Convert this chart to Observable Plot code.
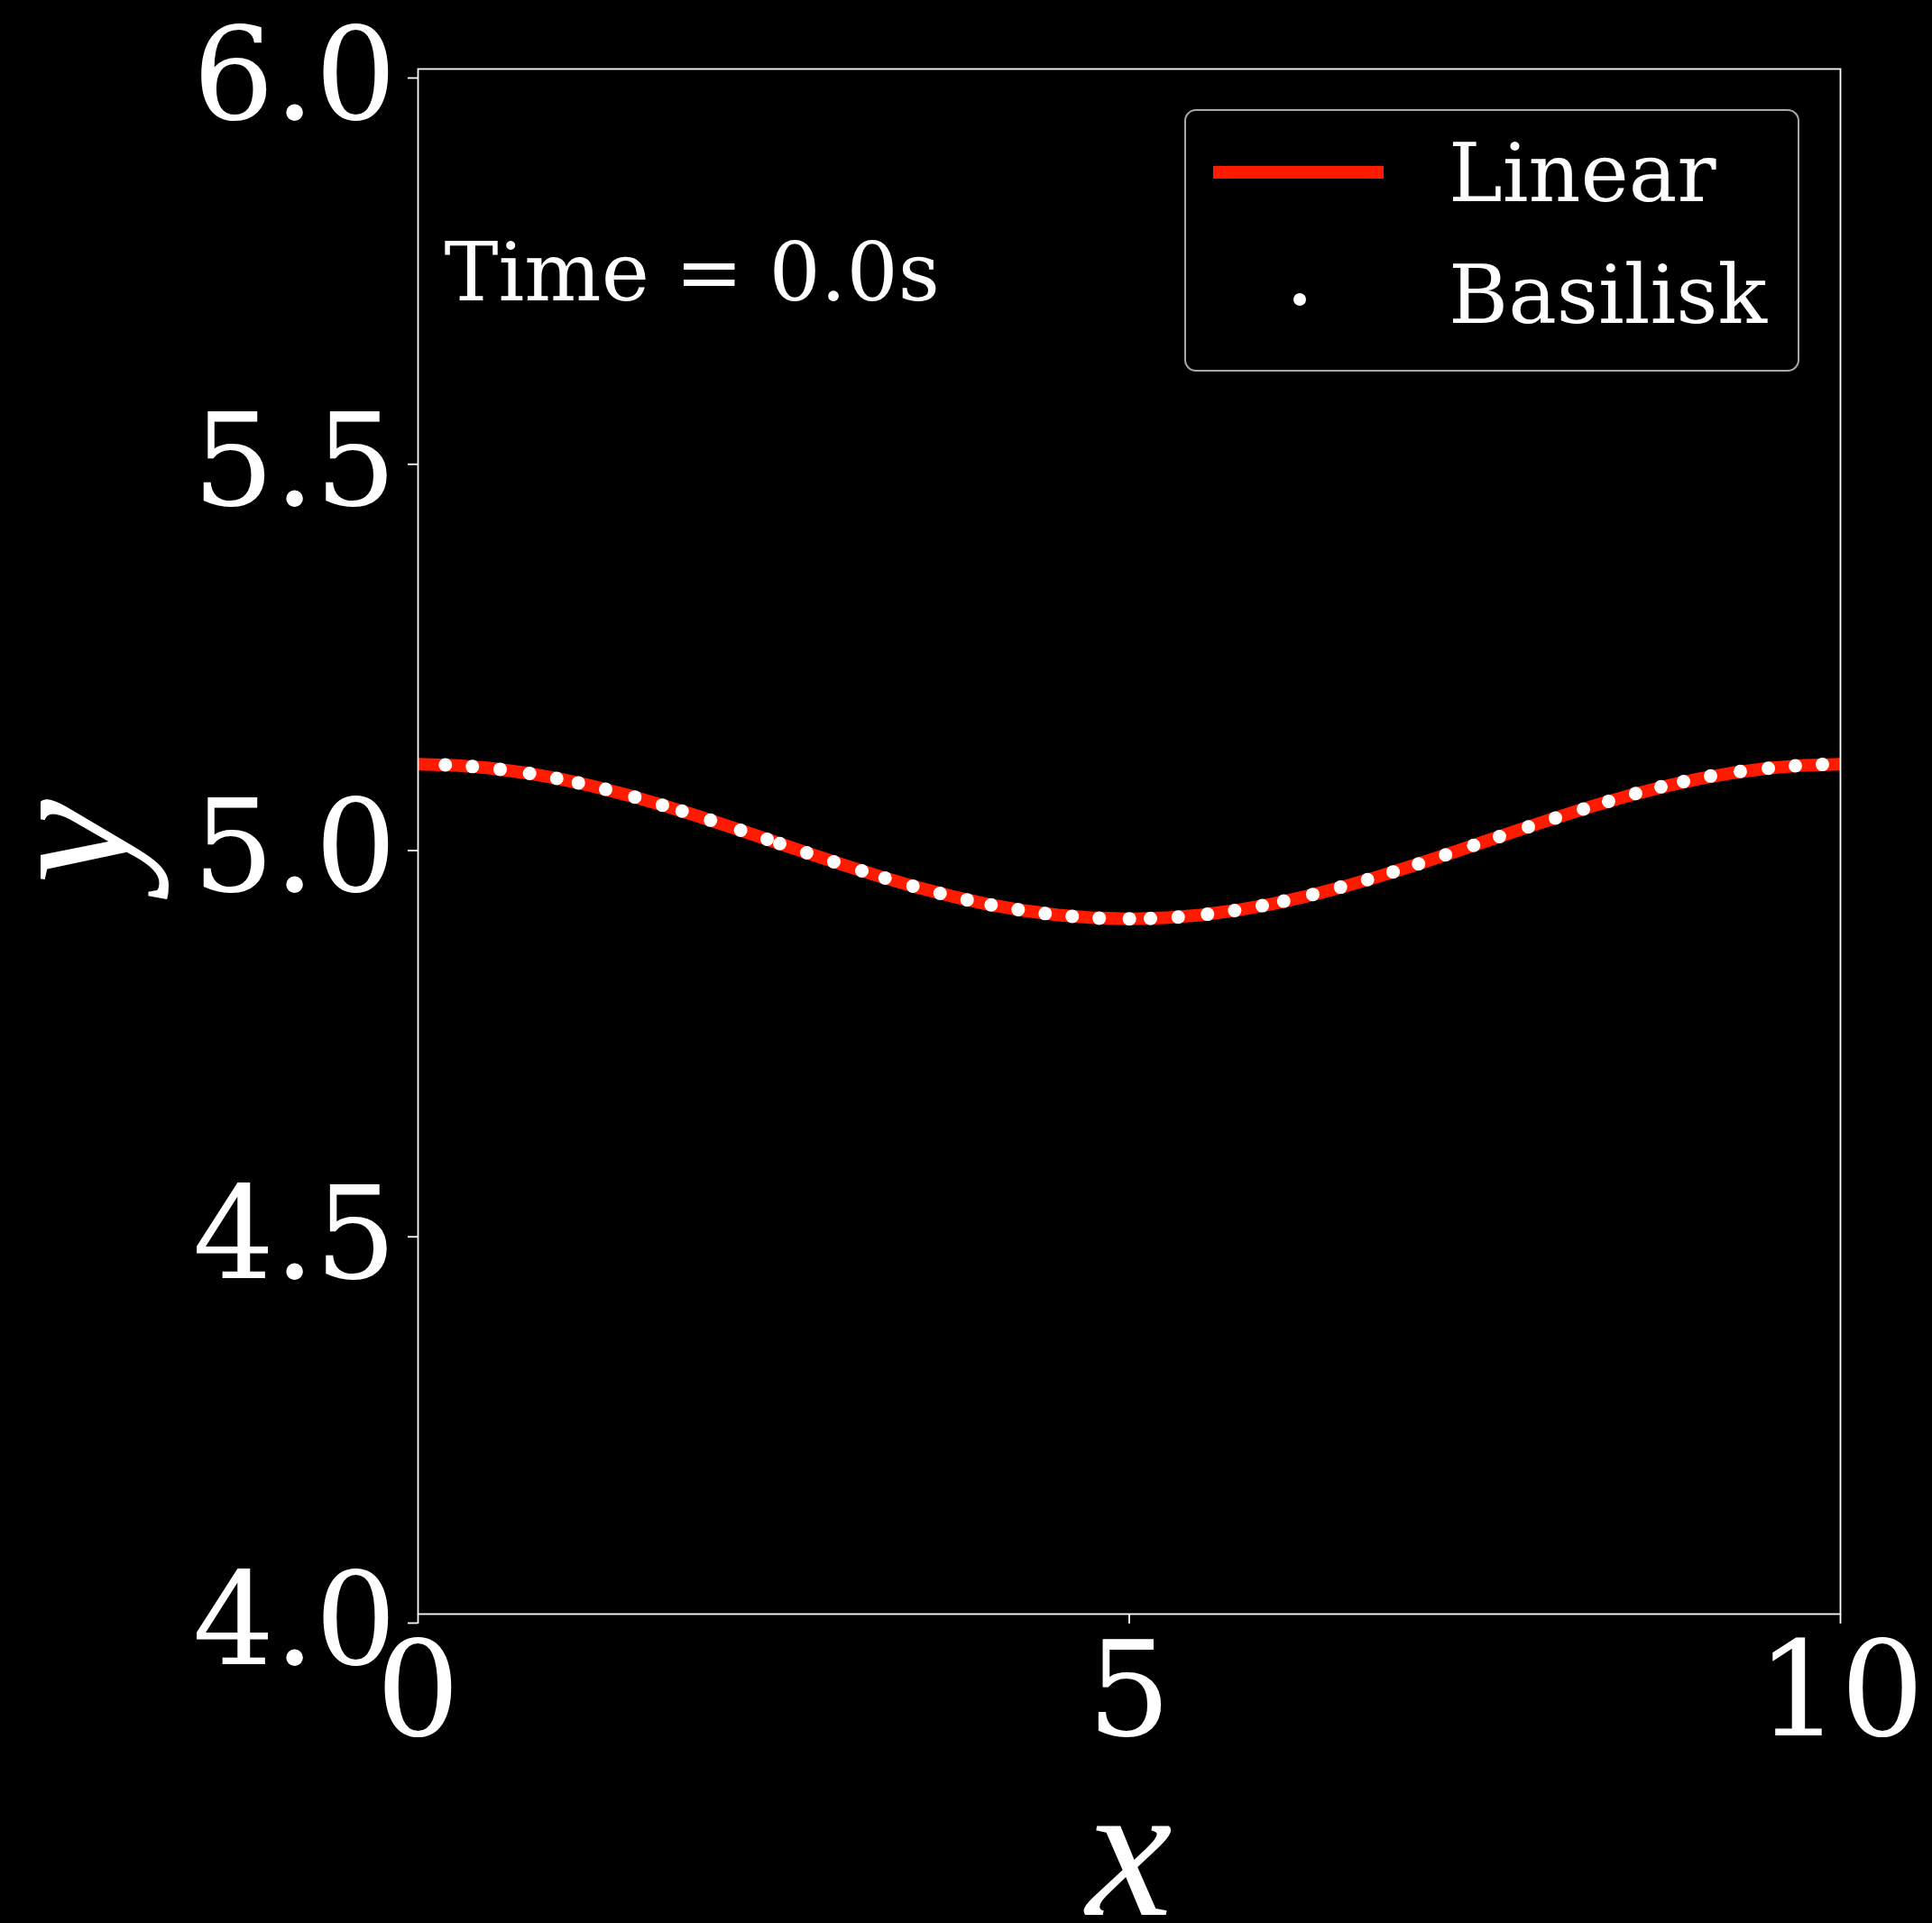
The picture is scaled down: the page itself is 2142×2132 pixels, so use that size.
<!DOCTYPE html>
<html>
<head>
<meta charset="utf-8">
<script src="https://cdn.jsdelivr.net/npm/d3@7"></script>
<script src="https://cdn.jsdelivr.net/npm/@observablehq/plot@0.6"></script>
<style>
  html, body { margin: 0; padding: 0; background: #000; }
</style>
</head>
<body>
<div id="chart"></div>
<script>
// ---- data ----
const seriesNames = ["Linear", "Basilisk"];
const timeLabel = "Time = 0.0s";
const xTicks = [0, 5, 10];
const yTicks = [4.0, 4.5, 5.0, 5.5, 6.0];

const linearX = [0, 0.25, 0.5, 0.75, 1, 1.25, 1.5, 1.75, 2, 2.25, 2.5, 2.75, 3, 3.25, 3.5, 3.75, 4, 4.25, 4.5, 4.75, 5,
  5.25, 5.5, 5.75, 6, 6.25, 6.5, 6.75, 7, 7.25, 7.5, 7.75, 8, 8.25, 8.5, 8.75, 9, 9.25, 9.5, 9.75, 10];
const linearY = [5.1000, 5.0988, 5.0951, 5.0891, 5.0809, 5.0707, 5.0588, 5.0454, 5.0309, 5.0156, 5.0000,
  4.9844, 4.9691, 4.9546, 4.9412, 4.9293, 4.9191, 4.9109, 4.9049, 4.9012, 4.9000,
  4.9012, 4.9049, 4.9109, 4.9191, 4.9293, 4.9412, 4.9546, 4.9691, 4.9844, 5.0000,
  5.0156, 5.0309, 5.0454, 5.0588, 5.0707, 5.0809, 5.0891, 5.0951, 5.0988, 5.1000];

const basiliskX = [0.192, 0.382, 0.577, 0.784, 0.975, 1.127, 1.319, 1.524, 1.718, 1.856, 2.056, 2.268, 2.454, 2.543,
  2.733, 2.923, 3.120, 3.283, 3.479, 3.670, 3.860, 4.029, 4.219, 4.409, 4.599, 4.789, 5.001, 5.149, 5.344, 5.550,
  5.741, 5.935, 6.086, 6.290, 6.485, 6.675, 6.855, 7.034, 7.224, 7.421, 7.603, 7.806, 7.996, 8.193, 8.370, 8.560,
  8.738, 8.897, 9.087, 9.296, 9.493, 9.683, 9.873];
const basiliskY = [5.0993, 5.0971, 5.0935, 5.0881, 5.0818, 5.0760, 5.0676, 5.0576, 5.0471, 5.0394, 5.0276, 5.0146,
  5.0029, 4.9973, 4.9854, 4.9737, 4.9621, 4.9528, 4.9423, 4.9329, 4.9245, 4.9180, 4.9118, 4.9068, 4.9032, 4.9009,
  4.9000, 4.9004, 4.9023, 4.9059, 4.9106, 4.9170, 4.9228, 4.9315, 4.9409, 4.9507, 4.9607, 4.9711, 4.9827, 4.9950,
  5.0064, 5.0190, 5.0305, 5.0421, 5.0521, 5.0621, 5.0708, 5.0776, 5.0848, 5.0907, 5.0949, 5.0980, 5.0997];

// ---- tables built from the arrays ----
const linear = linearX.map((x, i) => ({x, y: linearY[i]}));
const basilisk = basiliskX.map((x, i) => ({x, y: basiliskY[i]}));

const RED = "#ff1a00";
const SERIF = "'DejaVu Serif', serif";
const MATH = "'Liberation Serif', 'DejaVu Serif', serif";

function legendMark(index, scales, values, dimensions) {
  const {width, marginRight, marginTop} = dimensions;
  const right = width - marginRight;
  const bx = right - 726, by = marginTop + 46;
  const g = d3.create("svg:g");
  g.append("rect")
    .attr("x", bx).attr("y", by).attr("width", 680).attr("height", 289)
    .attr("rx", 12).attr("ry", 12)
    .attr("fill", "#000").attr("stroke", "#a8a8a8").attr("stroke-width", 2);
  g.append("line")
    .attr("x1", bx + 31).attr("x2", bx + 220)
    .attr("y1", by + 69).attr("y2", by + 69)
    .attr("stroke", RED).attr("stroke-width", 14);
  g.append("circle")
    .attr("cx", bx + 127).attr("cy", by + 210).attr("r", 7)
    .attr("fill", "#fff");
  const baselines = [by + 101, by + 236];
  seriesNames.forEach((name, i) => {
    g.append("text")
      .attr("x", bx + 292).attr("y", baselines[i])
      .attr("fill", "#fff")
      .attr("text-anchor", "start")
      .attr("font-family", SERIF).attr("font-size", 90)
      .text(name);
  });
  return g.node();
}

const chart = Plot.plot({
  width: 2142,
  height: 2132,
  marginLeft: 463,
  marginRight: 102,
  marginTop: 76,
  marginBottom: 343,
  style: {background: "#000", color: "#fff", fontFamily: SERIF},
  x: {domain: [0, 10]},
  y: {domain: [4, 6]},
  marks: [
    Plot.line(linear, {x: "x", y: "y", stroke: RED, strokeWidth: 14, clip: true}),
    Plot.dot(basilisk, {x: "x", y: "y", r: 7.5, fill: "#fff", stroke: null}),
    Plot.frame({stroke: "#fff", strokeWidth: 1.8}),
    Plot.axisX({ticks: xTicks, tickSize: 11, tickPadding: 20, fontSize: 146, label: null,
      tickFormat: d => String(d), strokeWidth: 1.8}),
    Plot.axisY({ticks: yTicks, tickSize: 11, tickPadding: 13, fontSize: 142, label: null,
      tickFormat: d3.format(".1f"), dy: 10, strokeWidth: 1.8}),
    Plot.text(["x"], {frameAnchor: "bottom", dy: 333, lineAnchor: "bottom", textAnchor: "middle",
      fontSize: 215, fontStyle: "italic", fontFamily: MATH, fill: "#fff"}),
    Plot.text(["y"], {frameAnchor: "left", dx: -322, rotate: -90, lineAnchor: "bottom", textAnchor: "middle",
      fontSize: 210, fontStyle: "italic", fontFamily: MATH, fill: "#fff"}),
    Plot.text([timeLabel], {frameAnchor: "top-left", dx: 29, dy: 256, lineAnchor: "bottom", textAnchor: "start",
      fontSize: 90, fontFamily: SERIF, fill: "#fff"}),
    legendMark
  ]
});
document.getElementById("chart").appendChild(chart);
</script>
</body>
</html>
